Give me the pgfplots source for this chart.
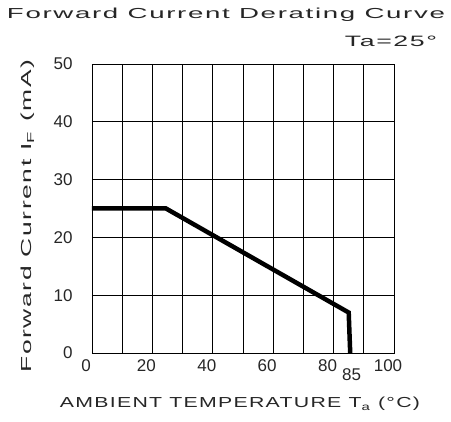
\documentclass[border=0pt]{standalone}
\usepackage{pgfplots}
\pgfplotsset{compat=1.18}
\usepackage{fontspec}
\setmainfont{Liberation Sans}
\newfontfamily\spaced[LetterSpace=6]{Liberation Sans}
\definecolor{ink}{gray}{0.15}
\begin{document}
\begin{tikzpicture}
\path[use as bounding box] (-92pt,-69pt) rectangle (359pt,353pt);
\begin{axis}[
  at={(0pt,0pt)}, anchor=south west,
  scale only axis, width=302pt, height=289pt,
  xmin=0, xmax=100, ymin=0, ymax=50,
  xtick={0,20,40,60,80,100},
  minor xtick={10,30,50,70,90},
  ytick={0,10,20,30,40,50},
  extra x ticks={85},
  extra x tick style={grid=none, tick label style={yshift=-9pt, xshift=9pt}},
  grid=both,
  major grid style={black, line width=0.6pt},
  minor grid style={black, line width=0.6pt},
  axis line style={black, line width=0.8pt},
  tick style={draw=none},
  /pgf/number format/assume math mode=true,
  tick label style={font=\fontsize{17}{17}\selectfont, text=ink},
  xticklabel style={yshift=-3pt, xshift=-6pt},
  yticklabel style={xshift=-16pt},
  clip=false,
]
\addplot[black, line width=4.5pt] coordinates {(0,25) (24.5,25) (85,7) (85.5,0)};
\end{axis}
\node[anchor=base, text=ink, inner sep=0pt] at (134pt,334pt) {\resizebox{438pt}{10.5pt}{\spaced Forward Current Derating Curve}};
\node[anchor=base, text=ink, inner sep=0pt] at (299pt,306pt) {\resizebox{92pt}{10.5pt}{\spaced Ta=25°}};
\node[anchor=base, text=ink, inner sep=0pt] at (148pt,-55pt) {\resizebox{360pt}{10.5pt}{\spaced AMBIENT TEMPERATURE T\textsubscript{a} (°C)}};
\node[anchor=base, rotate=90, text=ink, inner sep=0pt] at (-60pt,137pt) {\resizebox{313pt}{10.5pt}{\spaced Forward Current I\textsubscript{F} (mA)}};
\end{tikzpicture}
\end{document}
